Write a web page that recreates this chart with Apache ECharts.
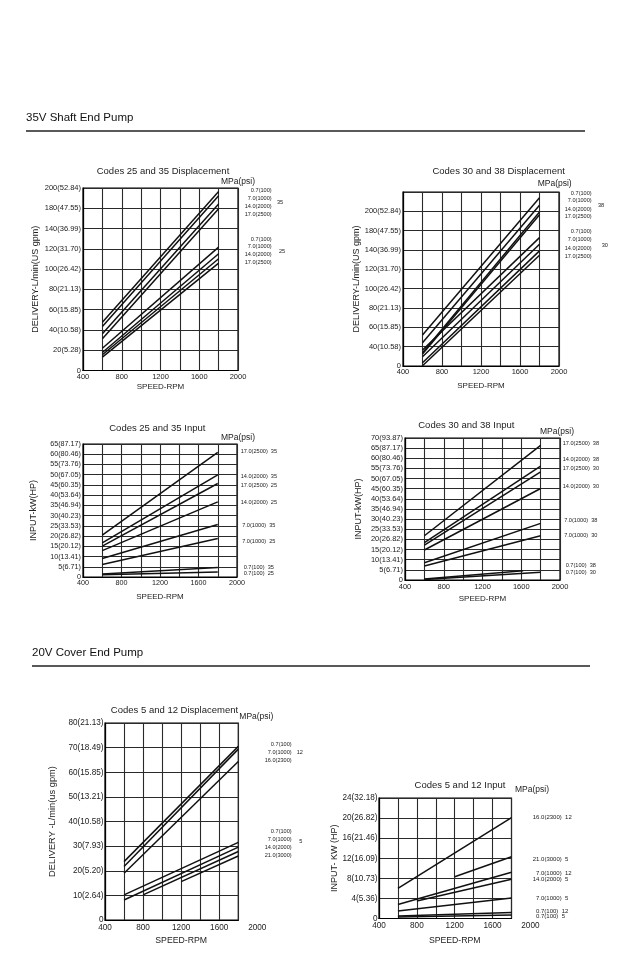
<!DOCTYPE html>
<html><head><meta charset="utf-8">
<script src="https://cdn.jsdelivr.net/npm/echarts@6/dist/echarts.min.js"></script>
<style>html,body{margin:0;padding:0;background:#fff}#c{width:640px;height:974px}</style>
</head><body><div id="c"></div><script>
const FONT = '"Liberation Sans", Arial, Helvetica, sans-serif';

// x-axis tick labels (RPM)
const rpmLabels = [400, 800, 1200, 1600, 2000];

// ---- Plot 1: Codes 25 and 35 Displacement (y in grid-position units, 20 per row)
const p1YLabels = ['0','20(5.28)','40(10.58)','60(15.85)','80(21.13)','100(26.42)','120(31.70)','140(36.99)','180(47.55)','200(52.84)'];
const p1Names = ['35 0.7(100)','35 7.0(1000)','35 14.0(2000)','35 17.0(2500)','25 0.7(100)','25 7.0(1000)','25 14.0(2000)','25 17.0(2500)'];
const p1X0 = [600,600,600,600,600,600,600,600];
const p1X1 = [1800,1800,1800,1800,1800,1800,1800,1800];
const p1Y0 = [47.7,43.4,36.2,31.3,22.0,17.8,15.5,13.2];
const p1Y1 = [176.6,172.4,164.1,159.5,121.7,115.1,110.2,105.9];

// ---- Plot 2: Codes 30 and 38 Displacement
const p2YLabels = ['0','40(10.58)','60(15.85)','80(21.13)','100(26.42)','120(31.70)','140(36.99)','180(47.55)','200(52.84)',''];
const p2Names = ['38 0.7(100)','38 7.0(1000)','38 14.0(2000)','38 17.0(2500)','30 0.7(100)','30 7.0(1000)','30 14.0(2000)','30 17.0(2500)'];
const p2X0 = [600,600,600,600,600,600,600,600];
const p2X1 = [1800,1800,1800,1800,1800,1800,1800,1800];
const p2Y0 = [32.0,24.1,13.8,12.4,16.5,9.6,3.4,0.3];
const p2Y1 = [174.1,166.2,159.3,156.4,132.8,126.0,119.1,114.6];

// ---- Plot 3: Codes 25 and 35 Input (kW)
const p3YLabels = ['0','5(6.71)','10(13.41)','15(20.12)','20(26.82)','25(33.53)','30(40.23)','35(46.94)','40(53.64)','45(60.35)','50(67.05)','55(73.76)','60(80.46)','65(87.17)'];
const p3Names = ['17.0(2500)  35','14.0(2000)  35','17.0(2500)  25','14.0(2000)  25','7.0(1000)  35','7.0(1000)  25','0.7(100)  35','0.7(100)  25'];
const p3X0 = [600,600,600,600,600,600,600,600];
const p3X1 = [1800,1800,1800,1800,1800,1800,1800,1800];
const p3Y0 = [20.5,16.7,15.1,12.9,9.0,6.1,1.5,1.1];
const p3Y1 = [60.9,49.9,45.7,36.7,25.7,18.8,4.7,2.5];

// ---- Plot 4: Codes 30 and 38 Input (kW)
const p4YLabels = ['0','5(6.71)','10(13.41)','15(20.12)','20(26.82)','25(33.53)','30(40.23)','35(46.94)','40(53.64)','45(60.35)','50(67.05)','55(73.76)','60(80.46)','65(87.17)','70(93.87)'];
const p4Names = ['17.0(2500)  38','14.0(2000)  38','17.0(2500)  30','14.0(2000)  30','7.0(1000)  38','7.0(1000)  30','0.7(100)  38','0.7(100)  30'];
const p4X0 = [600,600,600,600,600,600,600,600];
const p4X1 = [1800,1800,1800,1800,1800,1800,1620,1800];
const p4Y0 = [21.8,18.4,17.2,14.8,8.5,6.9,0.5,0.3];
const p4Y1 = [66.4,56.1,53.3,45.1,27.9,21.8,4.6,3.8];

// ---- Plot 5: Codes 5 and 12 Displacement
const p5YLabels = ['0','10(2.64)','20(5.20)','30(7.93)','40(10.58)','50(13.21)','60(15.85)','70(18.49)','80(21.13)'];
const p5Names = ['12 0.7(100)','12 7.0(1000)','12 16.0(2300)','5 0.7(100)','5 7.0(1000)','5 14.0(2000)','5 21.0(3000)'];
const p5X0 = [600,600,600,600,600,800,1200];
const p5X1 = [1800,1800,1800,1800,1800,1800,1800];
const p5Y0 = [23.7,21.7,19.0,10.2,8.1,10.2,15.6];
const p5Y1 = [70.5,69.4,64.4,31.5,29.6,27.8,26.0];

// ---- Plot 6: Codes 5 and 12 Input (kW)
const p6YLabels = ['0','4(5.36)','8(10.73)','12(16.09)','16(21.46)','20(26.82)','24(32.18)'];
const p6Names = ['16.0(2300)  12','21.0(3000)  5','7.0(1000)  12','14.0(2000)  5','7.0(1000)  5','0.7(100)  12','0.7(100)  5'];
const p6X0 = [600,1200,600,800,600,600,600];
const p6X1 = [1800,1800,1800,1800,1800,1800,1800];
const p6Y0 = [6.0,8.3,2.8,3.5,1.5,0.5,0.3];
const p6Y1 = [20.1,12.3,9.2,7.8,4.1,1.2,0.7];

const grids = [], xAxes = [], yAxes = [], series = [];
const INK = '#111';
const GRIDC = '#2a2a2a';

function xLabelFmt(v){ return rpmLabels.indexOf(v) >= 0 ? String(v) : ''; }

function addPlot(p){
  const gi = grids.length;
  grids.push({left:p.left, top:p.top, width:p.width, height:p.height, show:true, borderColor:'#000', borderWidth:1.2, backgroundColor:'transparent'});
  const showXLabels = !p.labelWidth;
  xAxes.push({
    type:'value', gridIndex:gi, min:400, max:p.xMax, interval:200,
    axisLine:{show:true, lineStyle:{color:'#000', width:1.2}},
    axisTick:{show:false},
    splitLine:{show:true, lineStyle:{color:GRIDC, width:1.1}},
    axisLabel:{show:showXLabels, formatter:xLabelFmt, fontSize:p.tickFont, fontFamily:FONT, color:'#222', margin:p.xMargin, showMinLabel:true, showMaxLabel:true},
    name: showXLabels ? 'SPEED-RPM' : '', nameLocation:'middle', nameGap:p.xNameGap,
    nameTextStyle:{fontSize:p.xNameFont, fontFamily:FONT, color:'#222'}
  });
  const labs = p.yLabels, step = p.yInterval;
  yAxes.push({
    type:'value', gridIndex:gi, min:0, max:p.yMax, interval:step,
    axisLine:{show:true, lineStyle:{color:'#000', width:1.2}},
    axisTick:{show:false},
    splitLine:{show:true, lineStyle:{color:GRIDC, width:1.1}},
    axisLabel:{formatter:function(v){ const i = Math.round(v/step); return labs[i] !== undefined ? labs[i] : ''; }, fontSize:p.tickFont, fontFamily:FONT, color:'#222', margin:p.yMargin, showMinLabel:true, showMaxLabel:true},
    name:p.yName, nameLocation:'middle', nameGap:p.yNameGap,
    nameTextStyle:{fontSize:p.yNameFont, fontFamily:FONT, color:'#222'}
  });
  for (let i = 0; i < p.names.length; i++){
    series.push({
      type:'line', name:p.names[i], xAxisIndex:gi, yAxisIndex:gi,
      data:[[p.x0[i], p.y0[i]], [p.x1[i], p.y1[i]]],
      symbol:'none', silent:true, animation:false,
      lineStyle:{color:INK, width:1.5}
    });
  }
  if (p.labelWidth){
    const gj = grids.length;
    grids.push({left:p.left, top:p.top, width:p.labelWidth, height:p.height, show:false});
    xAxes.push({
      type:'value', gridIndex:gj, min:400, max:2000, interval:200,
      axisLine:{show:false}, axisTick:{show:false}, splitLine:{show:false},
      axisLabel:{formatter:xLabelFmt, fontSize:p.tickFont, fontFamily:FONT, color:'#222', margin:p.xMargin, showMinLabel:true, showMaxLabel:true},
      name:'SPEED-RPM', nameLocation:'middle', nameGap:p.xNameGap,
      nameTextStyle:{fontSize:p.xNameFont, fontFamily:FONT, color:'#222'}
    });
    yAxes.push({type:'value', gridIndex:gj, min:0, max:1, show:false});
  }
}

addPlot({left:83, top:188, width:155, height:182.5, xMax:2000, yMax:180, yInterval:20, yLabels:p1YLabels,
  names:p1Names, x0:p1X0, x1:p1X1, y0:p1Y0, y1:p1Y1, tickFont:7.5, xMargin:2, yMargin:2,
  yName:'DELIVERY-L/min(US gpm)', yNameGap:43, yNameFont:9, xNameGap:12, xNameFont:8});
addPlot({left:403, top:192, width:156, height:174, xMax:2000, yMax:180, yInterval:20, yLabels:p2YLabels,
  names:p2Names, x0:p2X0, x1:p2X1, y0:p2Y0, y1:p2Y1, tickFont:7.5, xMargin:2, yMargin:2,
  yName:'DELIVERY-L/min(US gpm)', yNameGap:42, yNameFont:9, xNameGap:16, xNameFont:8});
addPlot({left:83, top:444, width:154, height:133, xMax:2000, yMax:65, yInterval:5, yLabels:p3YLabels,
  names:p3Names, x0:p3X0, x1:p3X1, y0:p3Y0, y1:p3Y1, tickFont:7.2, xMargin:3, yMargin:2,
  yName:'INPUT-kW(HP)', yNameGap:45, yNameFont:9, xNameGap:16, xNameFont:8});
addPlot({left:405, top:438, width:155, height:142, xMax:2000, yMax:70, yInterval:5, yLabels:p4YLabels,
  names:p4Names, x0:p4X0, x1:p4X1, y0:p4Y0, y1:p4Y1, tickFont:7.5, xMargin:3, yMargin:2,
  yName:'INPUT-kW(HP)', yNameGap:42, yNameFont:9, xNameGap:15, xNameFont:8});
addPlot({left:105, top:723, width:133.3, height:197, xMax:1800, labelWidth:152.3, yMax:80, yInterval:10, yLabels:p5YLabels,
  names:p5Names, x0:p5X0, x1:p5X1, y0:p5Y0, y1:p5Y1, tickFont:8.2, xMargin:4, yMargin:1.5,
  yName:'DELIVERY -L/min(us gpm)', yNameGap:48, yNameFont:9.3, xNameGap:16, xNameFont:8.7});
addPlot({left:379, top:798, width:132.5, height:120.5, xMax:1800, labelWidth:151.4, yMax:24, yInterval:4, yLabels:p6YLabels,
  names:p6Names, x0:p6X0, x1:p6X1, y0:p6Y0, y1:p6Y1, tickFont:8.2, xMargin:3.5, yMargin:1.5,
  yName:'INPUT- KW (HP)', yNameGap:31, yNameFont:9, xNameGap:18, xNameFont:8.7});

// ---- text annotations
const g = [];
function txt(s, x, y, size, align, opts){
  opts = opts || {};
  g.push({type:'text', silent:true, x:x, y:y, style:{text:s, font:(opts.weight||'normal')+' '+size+'px '+FONT,
    fill:opts.color||'#222', textAlign:align, textVerticalAlign:'middle', align:align, verticalAlign:'middle'}});
}
function hline(x1, x2, y){
  g.push({type:'line', silent:true, shape:{x1:x1, y1:y, x2:x2, y2:y}, style:{stroke:'#222', lineWidth:1.5}});
}
// section headers
txt('35V Shaft End Pump', 26, 118, 11.5, 'left', {color:'#111'});
hline(26, 585, 131);
txt('20V Cover End Pump', 32, 653, 11.5, 'left', {color:'#111'});
hline(32, 590, 666);

// subplot titles
txt('Codes 25 and 35 Displacement', 163, 171.7, 9.5, 'center');
txt('Codes 30 and 38 Displacement', 498.7, 171, 9.5, 'center');
txt('Codes 25 and 35 Input', 157.3, 428.3, 9.5, 'center');
txt('Codes 30 and 38 Input', 466.3, 425, 9.5, 'center');
txt('Codes 5 and 12 Displacement', 174.5, 710, 9.5, 'center');
txt('Codes 5 and 12 Input', 460, 785, 9.5, 'center');

// MPa(psi) headers
txt('MPa(psi)', 221, 181.7, 8.5, 'left');
txt('MPa(psi)', 537.7, 183.3, 8.5, 'left');
txt('MPa(psi)', 221, 437.7, 8.5, 'left');
txt('MPa(psi)', 540, 431.7, 8.5, 'left');
txt('MPa(psi)', 239.3, 716.7, 8.5, 'left');
txt('MPa(psi)', 515, 790, 8.5, 'left');

const LF = 5.6;
// plot 1 legend labels
[['0.7(100)',190.7],['7.0(1000)',198.3],['14.0(2000)',206],['17.0(2500)',214]].forEach(a=>txt(a[0],271.7,a[1],LF,'right'));
txt('35', 277, 202.7, LF, 'left');
[['0.7(100)',239],['7.0(1000)',246.7],['14.0(2000)',254.7],['17.0(2500)',262.7]].forEach(a=>txt(a[0],271.7,a[1],LF,'right'));
txt('25', 279, 251.7, LF, 'left');
// plot 2
[['0.7(100)',193.3],['7.0(1000)',200.7],['14.0(2000)',209],['17.0(2500)',216.7]].forEach(a=>txt(a[0],591.7,a[1],LF,'right'));
txt('38', 598, 205.7, LF, 'left');
[['0.7(100)',231.7],['7.0(1000)',239.3],['14.0(2000)',248.3],['17.0(2500)',256.7]].forEach(a=>txt(a[0],591.7,a[1],LF,'right'));
txt('30', 601.7, 245, LF, 'left');
// plot 3
const p3LabY = [451,476.7,485.7,502.7,525,541,567.3,573.3];
p3Names.forEach((n,i)=>txt(n, 240.7 + (i>=6?3:(i>=4?1.5:0)), p3LabY[i], LF, 'left'));
// plot 4
const p4LabY = [443.3,459.3,468.3,486,520.3,535,565.7,572];
p4Names.forEach((n,i)=>txt(n, 562.7 + (i>=6?3:(i>=4?1.5:0)), p4LabY[i], LF, 'left'));
// plot 5
[['0.7(100)',744],['7.0(1000)',752.3],['16.0(2300)',760.7]].forEach(a=>txt(a[0],291.7,a[1],LF,'right'));
txt('12', 296.7, 752.3, LF, 'left');
[['0.7(100)',831],['7.0(1000)',839],['14.0(2000)',847.7],['21.0(3000)',855.7]].forEach(a=>txt(a[0],291.7,a[1],LF,'right'));
txt('5', 299.3, 841.7, LF, 'left');
// plot 6
const p6LabY = [817.3,859.3,873.7,879.7,898,911.7,916.7];
const p6LabX = [532.7,532.7,536,532.7,536,536,536];
p6Names.forEach((n,i)=>txt(n, p6LabX[i], p6LabY[i], LF+0.4, 'left'));

const chart = echarts.init(document.getElementById('c'), null, {renderer:'canvas'});
chart.setOption({
  animation:false,
  backgroundColor:'#fff',
  grid:grids, xAxis:xAxes, yAxis:yAxes, series:series, graphic:g
});
</script></body></html>
